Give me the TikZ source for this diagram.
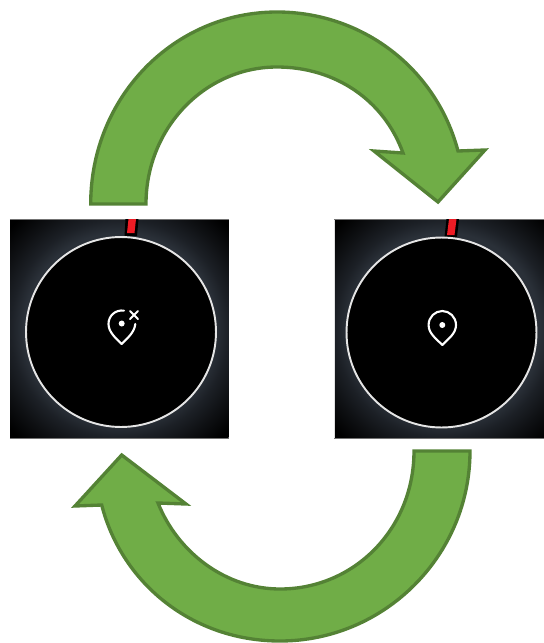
\documentclass[tikz,border=0pt]{standalone}
\usepackage{xcolor}
\definecolor{ArrowFill}{HTML}{70AD47}
\definecolor{ArrowEdge}{HTML}{548235}
\definecolor{NeedleRed}{HTML}{EE1C25}
\definecolor{GlowGrey}{HTML}{2A3038}
\definecolor{GlowEdge}{HTML}{1C2026}
\definecolor{GlowMid}{HTML}{0F1114}
\pgfdeclareradialshading{screenglow}{\pgfpoint{0bp}{0bp}}{
    color(0bp)=(black);
    color(20bp)=(GlowGrey);
    color(22bp)=(GlowGrey);
    color(25bp)=(GlowEdge);
    color(29bp)=(GlowMid);
    color(34bp)=(black);
    color(50bp)=(black)
}
\tikzset{
    % Screens
    screen/.style={
        rectangle,
        shading=screenglow,
        minimum size=4.37cm,
        inner sep=0pt
    },
    dial/.style={
        circle,
        draw=white!90!black,
        fill=black,
        line width=1.1pt,
        minimum size=3.8cm,
        inner sep=0pt
    },
    edgeline/.style={
        draw=black!55,
        line width=0.4pt
    },
    % Block arrows
    bigarrow/.style={
        draw=ArrowEdge,
        fill=ArrowFill,
        line width=1.9pt,
        line join=miter
    },
    pinline/.style={
        draw=white,
        line width=1.2pt,
        line cap=round,
        line join=round
    }
}
\begin{document}
\begin{tikzpicture}[x=0.02cm, y=-0.02cm]
    \useasboundingbox (0,0) rectangle (544,643);

    % Left screen
    \node[screen] (screenleft) at (119.4,328.5) {};
    \draw[edgeline] (screenleft.north west) -- (screenleft.north east);
    \draw[edgeline] (screenleft.south west) -- (screenleft.south east);
    \fill[black] (125.5,219) -- (138.5,219) -- (137,236) -- (124.5,236) -- cycle;
    \fill[NeedleRed] (128.5,219) -- (136,219) -- (134.5,233) -- (127,233) -- cycle;
    \node[dial] (dialleft) at (121,332) {};

    % Right screen
    \node[screen] (screenright) at (444,328.5) {};
    \draw[edgeline] (screenright.north west) -- (screenright.north east);
    \draw[edgeline] (screenright.south west) -- (screenright.south east);
    \fill[black] (446.5,219) -- (459,219) -- (457,237) -- (444.5,237) -- cycle;
    \fill[NeedleRed] (449,219) -- (456.5,219) -- (454.5,235) -- (447,235) -- cycle;
    \node[dial] (dialright) at (441.5,332.5) {};

    % Pin with cross
    \draw[pinline] (124,310.6) .. controls (115,309.5) and (108.5,316) .. (108.5,324)
        .. controls (108.5,332) and (116,338.5) .. (121.7,344)
        .. controls (127,338.5) and (134.5,332.5) .. (135.3,324);
    \fill[white] (121.7,323.5) circle (3);
    \draw[pinline] (130,311) -- (138,319) (138,311) -- (130,319);

    % Pin
    \draw[pinline] (442.3,345) .. controls (436,338.5) and (428.6,333.5) .. (428.6,325)
        .. controls (428.6,317) and (435,311) .. (442.3,311)
        .. controls (449.6,311) and (456,317) .. (456,325)
        .. controls (456,333.5) and (448.6,338.5) .. (442.3,345) -- cycle;
    \fill[white] (442.3,325) circle (3);

    % Top arrow
    \draw[bigarrow] (90.7,204) .. controls (90.7,97) and (174,12) .. (277,12)
        .. controls (362,12) and (436,68) .. (458,151)
        -- (485,150) -- (438,202) -- (374,151) -- (403,153)
        .. controls (384,100) and (335,67) .. (277,67)
        .. controls (205,67) and (146,128) .. (146,204) -- cycle;

    % Bottom arrow
    \draw[bigarrow] (470,451) .. controls (470,556) and (384,641) .. (280,641)
        .. controls (193,641) and (122,584) .. (101.7,505)
        -- (75,506) -- (121.7,455) -- (186,504) -- (158,503)
        .. controls (178,553) and (226,589) .. (280,589)
        .. controls (354,589) and (414,529) .. (414,451) -- cycle;
\end{tikzpicture}
\end{document}
